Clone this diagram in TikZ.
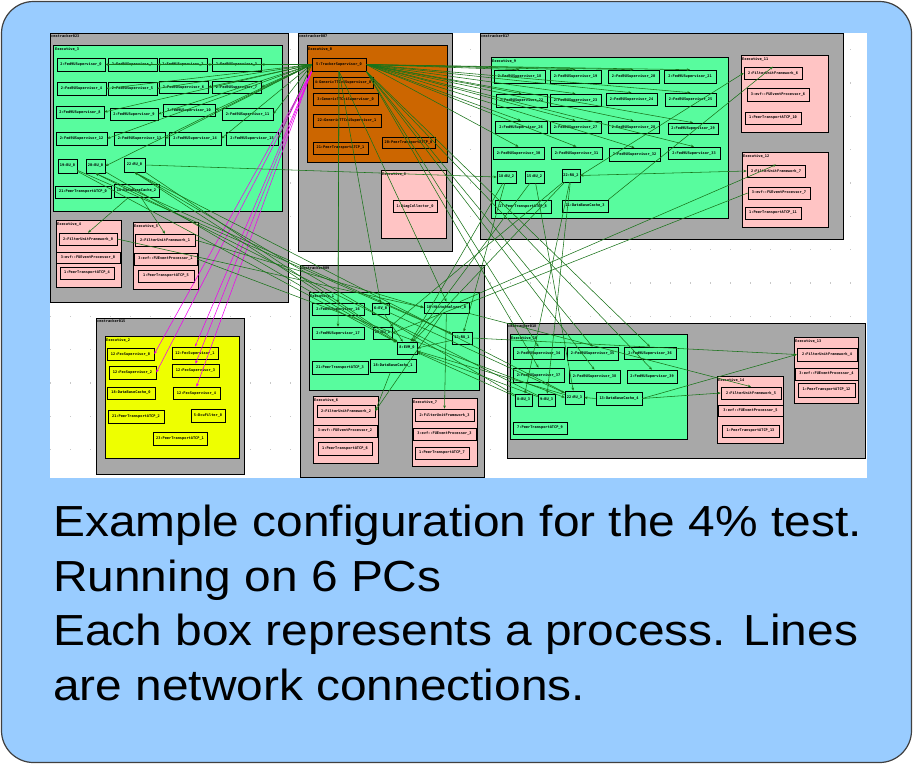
\documentclass[tikz,border=0pt]{standalone}
\usepackage{fontspec}
\setmainfont{Liberation Sans}
\newfontfamily\capfont{Liberation Sans}[FakeStretch=1.1]
\newfontfamily\nf{DejaVu Sans Mono}
\usetikzlibrary{arrows.meta,shadows}
\definecolor{bgblue}{RGB}{153,204,255}
\definecolor{hostgray}{RGB}{168,168,168}
\definecolor{exgreen}{RGB}{88,252,158}
\definecolor{expink}{RGB}{255,196,196}
\definecolor{exorange}{RGB}{204,102,0}
\definecolor{exyellow}{RGB}{238,255,0}
\definecolor{lgreen}{RGB}{25,115,25}
\definecolor{lmag}{RGB}{240,0,240}
\definecolor{dotc}{RGB}{200,200,200}
\def\curfill{exgreen}
\tikzset{
  nb/.style={draw=black, line width=0.6pt, fill=\curfill, inner sep=0pt,
    font=\nf\bfseries\fontsize{3.6}{4}\selectfont,
    drop shadow={shadow xshift=0.9pt,shadow yshift=-0.9pt,opacity=1,fill=black}},
  hostbox/.style={fill=hostgray, draw=black, line width=0.7pt},
  exbox/.style={draw=black, line width=0.7pt},
  lbl/.style={anchor=north west, inner sep=0pt, font=\nf\bfseries\fontsize{3.6}{4}\selectfont},
  gl/.style={draw=lgreen, line width=0.55pt, -{Stealth[length=3.2pt,width=2.6pt]}},
  gll/.style={draw=lgreen, line width=0.55pt, {Stealth[length=3.2pt,width=2.6pt]}-{Stealth[length=3.2pt,width=2.6pt]}},
  ml/.style={draw=lmag, line width=0.55pt, -{Stealth[length=3.2pt,width=2.6pt]}},
  captext/.style={anchor=base west, inner sep=0pt, font=\capfont\fontsize{43.5}{46}\selectfont}
}
\newcommand\bx[6]{\node[nb, minimum width={(#4)-(#2)}, minimum height={(#5)-(#3)}] (#1) at ({((#2)+(#4))/2},{((#3)+(#5))/2}) {#6};}
\begin{document}
\begin{tikzpicture}[x=1pt,y=-1pt]
\useasboundingbox (0,0) rectangle (913,764);
\draw[fill=bgblue, draw=black!75, line width=1.2pt, rounded corners=32pt] (1.5,1.5) rectangle (911.5,762.5);
\fill[white] (50,33) rectangle (867,478);
\foreach \i in {0,...,40} \foreach \j in {0,...,12} \fill[dotc] ({50+20*\i},{49+33.33*\j}) rectangle +(1.2,1.2);

% ---------- hosts and executives ----------
\draw[hostbox] (50,33) rectangle (288,302);
\node[lbl] (h023) at (51,34.5) {cmstracker023};
\draw[hostbox] (298,33) rectangle (452,251);
\node[lbl] (h007) at (299,34.5) {cmstracker007};
\draw[hostbox] (480,33) rectangle (843,239);
\node[lbl] (h017) at (481,34.5) {cmstracker017};
\draw[hostbox] (96,318) rectangle (244,474);
\node[lbl] (h015) at (97,319.5) {cmstracker015};
\draw[hostbox] (300,265) rectangle (484,477);
\node[lbl] (h009) at (301,266.5) {cmstracker009};
\draw[hostbox] (507,323) rectangle (865,458);
\node[lbl] (h018) at (508,324.5) {cmstracker018};

\draw[exbox, fill=exgreen] (53,45) rectangle (282,211);
\node[lbl] (e3) at (55,47) {Executive\_3};
\draw[exbox, fill=expink] (56,220) rectangle (121,287);
\node[lbl] (e4) at (57,222) {Executive\_4};
\draw[exbox, fill=expink] (133,222) rectangle (198,289);
\node[lbl] (e5) at (134,224) {Executive\_5};
\draw[exbox, fill=exorange] (307,45) rectangle (447,162);
\node[lbl] (e0) at (308,47) {Executive\_0};
\draw[exbox, fill=expink] (381,170) rectangle (446,238);
\node[lbl] (e8) at (382,172) {Executive\_8};
\draw[exbox, fill=exgreen] (491,57) rectangle (728,218);
\node[lbl] (e9) at (492,59) {Executive\_9};
\draw[exbox, fill=expink] (741,55) rectangle (828,132);
\node[lbl] (e11) at (742,57) {Executive\_11};
\draw[exbox, fill=expink] (742,152) rectangle (828,227);
\node[lbl] (e12) at (743,154) {Executive\_12};
\draw[exbox, fill=exyellow] (105,336) rectangle (239,458);
\node[lbl] (e2) at (106,338) {Executive\_2};
\draw[exbox, fill=exgreen] (309,292) rectangle (479,390);
\node[lbl] (e1) at (310,294) {Executive\_1};
\draw[exbox, fill=expink] (313,396) rectangle (378,463);
\node[lbl] (e6) at (314,398) {Executive\_6};
\draw[exbox, fill=expink] (412,398) rectangle (477,466);
\node[lbl] (e7) at (413,400) {Executive\_7};
\draw[exbox, fill=exgreen] (510,334) rectangle (687,439);
\node[lbl] (e10) at (511,336) {Executive\_10};
\draw[exbox, fill=expink] (794,337) rectangle (858,403);
\node[lbl] (e13) at (795,339) {Executive\_13};
\draw[exbox, fill=expink] (717,376) rectangle (783,443);
\node[lbl] (e14) at (718,378) {Executive\_14};

% ---------- processes ----------
\def\curfill{exgreen}
\bx{f0}{57}{58}{105}{71}{2:Fed9USupervisor\_0}
\bx{f1}{108}{58}{157}{71}{2:Fed9USupervisor\_1}
\bx{f2}{159}{58}{207}{71}{2:Fed9USupervisor\_2}
\bx{f3}{212}{58}{261}{71}{2:Fed9USupervisor\_3}
\bx{f4}{57}{82}{106}{95}{2:Fed9USupervisor\_4}
\bx{f5}{108}{82}{157}{95}{2:Fed9USupervisor\_5}
\bx{f6}{159}{81}{208}{93}{2:Fed9USupervisor\_6}
\bx{f7}{212}{81}{261}{93}{2:Fed9USupervisor\_7}
\bx{f8}{56}{106}{104}{118}{2:Fed9USupervisor\_8}
\bx{f9}{110}{108}{158}{120}{2:Fed9USupervisor\_9}
\bx{f10}{163}{104}{215}{116}{2:Fed9USupervisor\_10}
\bx{f11}{222}{108}{273}{120}{2:Fed9USupervisor\_11}
\bx{f12}{56}{132}{107}{145}{2:Fed9USupervisor\_12}
\bx{f13}{114}{132}{165}{145}{2:Fed9USupervisor\_13}
\bx{f14}{169}{132}{221}{145}{2:Fed9USupervisor\_14}
\bx{f15}{226}{132}{278}{145}{2:Fed9USupervisor\_15}
\bx{bu0a}{58}{159}{77}{173}{19:BU\_0}
\bx{bu0b}{86}{159}{105}{173}{20:BU\_0}
\bx{ru0}{124}{158}{145}{172}{22:RU\_0}
\bx{pt0}{55}{186}{111}{198}{21:PeerTransportATCP\_0}
\bx{dbc2}{114}{184}{159}{197}{18:DataBaseCache\_2}

\bx{f18}{494}{70}{545}{83}{2:Fed9USupervisor\_18}
\bx{f19}{550}{70}{601}{83}{2:Fed9USupervisor\_19}
\bx{f20}{608}{70}{659}{83}{2:Fed9USupervisor\_20}
\bx{f21}{664}{70}{716}{83}{2:Fed9USupervisor\_21}
\bx{f22}{496}{94}{547}{107}{2:Fed9USupervisor\_22}
\bx{f23}{550}{94}{601}{106}{2:Fed9USupervisor\_23}
\bx{f24}{606}{93}{657}{105}{2:Fed9USupervisor\_24}
\bx{f25}{665}{93}{716}{106}{2:Fed9USupervisor\_25}
\bx{f26}{495}{121}{547}{133}{2:Fed9USupervisor\_26}
\bx{f27}{550}{121}{601}{133}{2:Fed9USupervisor\_27}
\bx{f28}{608}{121}{659}{133}{2:Fed9USupervisor\_28}
\bx{f29}{668}{123}{718}{134}{2:Fed9USupervisor\_29}
\bx{f30}{493}{147}{544}{159}{2:Fed9USupervisor\_30}
\bx{f31}{551}{147}{602}{159}{2:Fed9USupervisor\_31}
\bx{f32}{609}{148}{660}{161}{2:Fed9USupervisor\_32}
\bx{f33}{668}{147}{720}{159}{2:Fed9USupervisor\_33}
\bx{bu2a}{497}{171}{516}{183}{18:BU\_2}
\bx{bu2b}{525}{171}{544}{183}{15:BU\_2}
\bx{ru2}{562}{169}{580}{182}{22:RU\_2}
\bx{pt8}{495}{200}{551}{213}{17:PeerTransportATCP\_8}
\bx{dbc3}{562}{200}{608}{212}{21:DataBaseCache\_3}

\bx{f16}{312}{303}{364}{315}{2:Fed9USupervisor\_16}
\bx{f17}{312}{327}{364}{339}{2:Fed9USupervisor\_17}
\bx{pt3}{312}{361}{368}{374}{21:PeerTransportATCP\_3}
\bx{ev0}{372}{303}{389}{314}{6:EV\_0}
\bx{bu1}{373}{327}{392}{339}{19:BU\_1}
\bx{evm}{397}{342}{417}{354}{8:EVM\_0}
\bx{dbc1}{370}{359}{416}{372}{18:DataBaseCache\_1}
\bx{histo}{424}{302}{469}{313}{10:HistoAnalyzer\_0}
\bx{ru1}{452}{332}{472}{344}{12:RU\_1}

\bx{f34}{513}{347}{564}{359}{2:Fed9USupervisor\_34}
\bx{f35}{567}{347}{618}{360}{2:Fed9USupervisor\_35}
\bx{f36}{624}{347}{676}{359}{2:Fed9USupervisor\_36}
\bx{f37}{513}{368}{564}{382}{2:Fed9USupervisor\_37}
\bx{f38}{569}{370}{620}{383}{2:Fed9USupervisor\_38}
\bx{f39}{627}{370}{677}{383}{2:Fed9USupervisor\_39}
\bx{bu3a}{515}{394}{532}{406}{8:BU\_3}
\bx{bu3b}{538}{394}{555}{406}{9:BU\_3}
\bx{ru3}{565}{391}{584}{404}{22:RU\_3}
\bx{dbc4}{596}{392}{642}{405}{13:DataBaseCache\_4}
\bx{pt9}{513}{422}{567}{434}{7:PeerTransportATCP\_9}

\def\curfill{expink}
\bx{fuf0}{59}{233}{117}{245}{2:FilterUnitFramework\_0}
\bx{fep0}{56}{252}{120}{263}{3:evf::FUEventProcessor\_0}
\bx{pt4}{60}{267}{114}{279}{1:PeerTransportATCP\_4}
\bx{fuf1}{135}{234}{195}{246}{2:FilterUnitFramework\_1}
\bx{fep1}{134}{253}{197}{265}{3:evf::FUEventProcessor\_1}
\bx{pt5}{138}{270}{194}{282}{1:PeerTransportATCP\_5}
\bx{diag}{393}{200}{437}{212}{1:DiagCollector\_0}
\bx{fuf6}{744}{67}{802}{79}{2:FilterUnitFramework\_6}
\bx{fep6}{747}{88}{809}{101}{3:evf::FUEventProcessor\_6}
\bx{pt10}{745}{112}{801}{124}{1:PeerTransportATCP\_10}
\bx{fuf7}{747}{165}{805}{177}{2:FilterUnitFramework\_7}
\bx{fep7}{748}{187}{810}{199}{3:evf::FUEventProcessor\_7}
\bx{pt11}{745}{207}{801}{219}{1:PeerTransportATCP\_11}
\bx{fuf2}{317}{405}{375}{417}{2:FilterUnitFramework\_2}
\bx{fep2}{313}{425}{377}{437}{3:evf::FUEventProcessor\_2}
\bx{pt6}{318}{442}{372}{455}{1:PeerTransportATCP\_6}
\bx{fuf3}{415}{409}{474}{421}{2:FilterUnitFramework\_3}
\bx{fep3}{413}{428}{476}{440}{3:evf::FUEventProcessor\_3}
\bx{pt7}{415}{447}{469}{459}{1:PeerTransportATCP\_7}
\bx{fuf4}{797}{348}{857}{361}{2:FilterUnitFramework\_4}
\bx{fep4}{795}{368}{858}{380}{3:evf::FUEventProcessor\_4}
\bx{pt12}{798}{383}{855}{397}{1:PeerTransportATCP\_12}
\bx{fuf5}{721}{387}{781}{399}{2:FilterUnitFramework\_5}
\bx{fep5}{718}{405}{783}{416}{3:evf::FUEventProcessor\_5}
\bx{pt13}{722}{425}{779}{437}{1:PeerTransportATCP\_13}

\def\curfill{exorange}
\bx{ts}{312}{58}{366}{71}{5:TrackerSupervisor\_0}
\bx{gt4}{313}{77}{373}{88}{4:GenericTTCviSupervisor\_0}
\bx{gt3}{313}{93}{378}{105}{3:GenericTTCciSupervisor\_0}
\bx{gt22}{313}{114}{381}{127}{22:GenericTTCciSupervisor\_1}
\bx{pt1}{313}{142}{368}{154}{21:PeerTransportATCP\_1}
\bx{pt0b}{382}{137}{435}{148}{20:PeerTransportATCP\_0}

\def\curfill{exyellow}
\bx{fec0}{107}{348}{154}{360}{12:FecSupervisor\_0}
\bx{fec2}{109}{366}{156}{379}{12:FecSupervisor\_2}
\bx{dbc0}{107}{387}{155}{399}{18:DataBaseCache\_0}
\bx{pt2}{108}{410}{164}{423}{21:PeerTransportATCP\_2}
\bx{fec1}{172}{347}{218}{359}{12:FecSupervisor\_1}
\bx{fec3}{172}{364}{219}{377}{12:FecSupervisor\_3}
\bx{fec4}{173}{387}{220}{399}{12:FecSupervisor\_4}
\bx{dcu}{191}{409}{225}{422}{5:DcuFilter\_0}
\bx{pt1b}{153}{432}{207}{445}{23:PeerTransportATCP\_1}

% ---------- connections ----------
\foreach \n in {f0,f1,f2,f3,f4,f5,f6,f7,f8,f9,f10,f11,f12,f13,f14,f15}
  \draw[gl] (ts.west) -- (\n.east);
\draw[gl] (ts.west) -- (bu0b.east);
\foreach \n in {f18,f19,f20,f21,f22,f23,f24,f25,f26,f27,f28,f29,f30,f31,f32,f33}
  \draw[gl] (ts.east) -- (\n.north);
\foreach \n in {f16,f17}
  \draw[gl] (ts.south) -- (\n.north);
\foreach \n in {f34,f35,f36,f37,f38,f39}
  \draw[gl] (ts.south east) -- (\n.north);
\draw[gl] (ts.south) -- (histo.north);
\draw[gl] (ts.south) -- (ev0.north);

\foreach \n in {fec0,fec2}
  \draw[ml] (ts.south west) -- (\n.east);
\foreach \n in {fec1,fec3,fec4}
  \draw[ml] (ts.south west) -- (\n.north);

\foreach \n in {ru0,ru2,ru3,bu0a,bu0b,ev0,bu2a,bu2b,bu3a,bu3b}
  \draw[gl] (\n) -- (evm);
\draw[gl] (ru1) -- (evm.east);
\draw[gl] (bu1) -- (evm.north west);
\draw[gl] (ru0.east) -- (bu2a.west);
\draw[gl] (bu3a) -- (ru0.south);
\draw[gl] (bu3b) -- (bu0b.south);
\draw[gl] (ru1) -- (bu0b.south);
\draw[gl] (ru3) -- (ru0.south);
\draw[gl] (bu1) -- (ru0.south);
\draw[gl] (bu2a) -- (ru1);
\draw[gl] (bu2b) -- (ru3);
\draw[gl] (ru2) -- (bu1);
\draw[gl] (ru2) -- (bu3a);
\draw[gl] (ru2) -- (bu3b);
\draw[gl] (ev0) -- (ru3);
\draw[gl] (bu0a) -- (ru1);
\draw[gl] (fep7.west) -- (bu1.east);

\draw[gl] (dbc2) -- (fuf0.north);
\draw[gl] (dbc2) -- (fuf1.north);
\draw[gl] (dbc1) -- (fuf2.east);
\draw[gl] (dbc3.north east) -- (fuf6.north);
\draw[gl] (ru2.east) -- (fuf6.west);
\draw[gll] (ru2.east) -- (fuf7.west);
\draw[gl] (dbc4.east) -- (fuf4.west);
\draw[gl] (ru1.east) -- (fuf4.west);
\draw[gl] (dbc4.east) -- (fuf5.west);
\draw[gl] (dbc4.west) -- (ru3.east);
\draw[gl] (fuf0.east) -- (histo.west);
\draw[gl] (fuf1.east) -- (histo.west);
\draw[gl] (fep1.east) -- (ru3.west);
\draw[gl] (histo) -- (fuf2.east);
\draw[gl] (histo) -- (fuf3.north);
\draw[gl] (histo) -- (fuf7.north);
\draw[gl] (histo) -- (fuf5.north);

% ---------- caption ----------
\node[captext] (t1) at (53,536.5) {Example configuration for the 4\% test.};
\node[captext] (t2) at (53,591) {Running on 6 PCs};
\node[captext] (t3) at (53,645.5) {Each box represents a process. Lines};
\node[captext] (t4) at (53,700) {are network connections.};
\end{tikzpicture}
\end{document}
